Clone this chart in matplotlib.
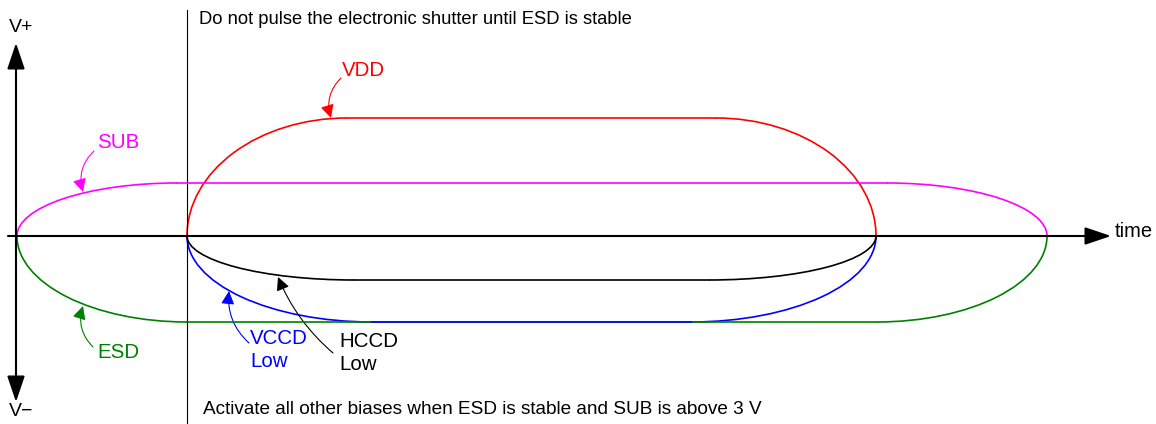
import matplotlib
matplotlib.use("Agg")
import matplotlib.pyplot as plt
from matplotlib.patches import Arc, FancyArrowPatch

plt.rcParams['font.family'] = ['Liberation Sans', 'DejaVu Sans']

# bias curves (x in time units, level = height above the time axis)
curve_names = ["SUB", "ESD", "VDD", "VCCD", "HCCD"]
curve_start = [17, 17, 187, 187, 187]
curve_end = [1047, 1047, 876, 876, 876]
curve_level = [53, -86, 118, -86, -44]
curve_ramp = [160, 170, 160, 185, 167]
curve_colors = ["#ff00ff", "#008000", "#ff0000", "#0000ff", "#000000"]

# callout labels: text, text position, arrow start, arrow tip, bend
label_text = ["SUB", "ESD", "VDD", "VCCD\nLow", "HCCD\nLow"]
label_pos = [(97, 94), (97, -117), (342, 166), (250, -114), (339, -117)]
arrow_from = [(94, 85), (93, -111), (341, 158), (249, -107), (333, -117)]
arrow_to = [(83, 44), (83, -70), (331, 118), (229, -55), (278, -41)]
arrow_bend = [0.3, -0.3, 0.3, -0.25, -0.12]

t0 = 187  # vertical marker at power-up
note_top = "Do not pulse the electronic shutter until ESD is stable"
note_bottom = "Activate all other biases when ESD is stable and SUB is above 3 V"

fig = plt.figure(figsize=(11.56, 4.24), dpi=100)
ax = fig.add_axes([0, 0, 1, 1])
ax.set_xlim(0, 1156)
ax.set_ylim(-188, 236)
ax.axis('off')

# axes arrows
ax.annotate('', xy=(1111, 0), xytext=(8, 0),
            arrowprops=dict(arrowstyle='-|>,head_length=0.8,head_width=0.27',
                            mutation_scale=20, lw=1.5, color='black',
                            shrinkA=0, shrinkB=0))
ax.annotate('', xy=(16, 193), xytext=(16, -166),
            arrowprops=dict(arrowstyle='<|-|>,head_length=0.8,head_width=0.27',
                            mutation_scale=20, lw=1.5, color='black',
                            shrinkA=0, shrinkB=0))
ax.plot([t0, t0], [226, -188], color='black', lw=0.8)

ax.text(9, 208, "V+", fontsize=14, va='center', ha='left')
ax.text(9, -176, "V\u2212", fontsize=14, va='center', ha='left')
ax.text(1115, 5, "time", fontsize=14.5, va='center', ha='left')
ax.text(199, 217, note_top, fontsize=13.2, va='center', ha='left')
ax.text(203, -173, note_bottom, fontsize=13.7, va='center', ha='left')

for x0, x1, lvl, rx, c in zip(curve_start, curve_end, curve_level,
                              curve_ramp, curve_colors):
    ry = abs(lvl)
    if lvl > 0:
        a_left, a_right = (90, 180), (0, 90)
    else:
        a_left, a_right = (180, 270), (270, 360)
    ax.add_patch(Arc((x0 + rx, 0), 2 * rx, 2 * ry, theta1=a_left[0],
                     theta2=a_left[1], color=c, lw=1.2))
    ax.add_patch(Arc((x1 - rx, 0), 2 * rx, 2 * ry, theta1=a_right[0],
                     theta2=a_right[1], color=c, lw=1.2))
    ax.plot([x0 + rx, x1 - rx], [lvl, lvl], color=c, lw=1.2)

for txt, pos, p0, p1, rad, c in zip(label_text, label_pos, arrow_from,
                                    arrow_to, arrow_bend, curve_colors):
    ax.text(pos[0], pos[1], txt, color=c, fontsize=14.8, ha='left',
            va='center', linespacing=1.25)
    ax.add_patch(FancyArrowPatch(p0, p1, connectionstyle=f"arc3,rad={rad}",
                                 arrowstyle='-|>,head_length=0.8,head_width=0.4',
                                 mutation_scale=10, color=c, lw=0.8,
                                 shrinkA=0, shrinkB=0))

fig.savefig("out.png", dpi=100)
